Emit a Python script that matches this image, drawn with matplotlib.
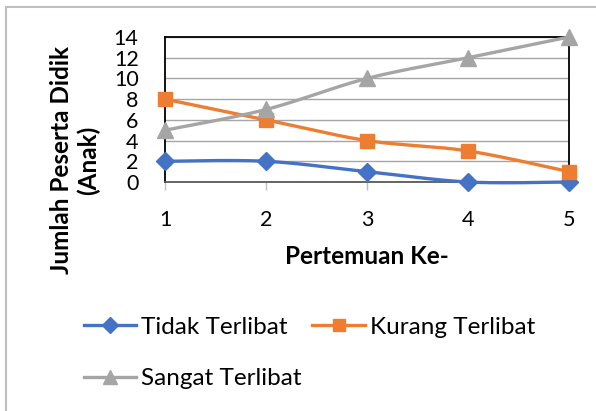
import numpy as np
import matplotlib.pyplot as plt
from matplotlib.patches import Rectangle
from matplotlib.lines import Line2D

plt.rcParams['font.family'] = ['Lato', 'DejaVu Sans']

pertemuan = [1, 2, 3, 4, 5]
tidak_terlibat = [2, 2, 1, 0, 0]
kurang_terlibat = [8, 6, 4, 3, 1]
sangat_terlibat = [5, 7, 10, 12, 14]

series = [
    ('Tidak Terlibat', tidak_terlibat, '#4472C4', 'D', 9),
    ('Kurang Terlibat', kurang_terlibat, '#ED7D31', 's', 10),
    ('Sangat Terlibat', sangat_terlibat, '#A5A5A5', '^', 11),
]


def smooth(x, y, n=40):
    # catmull-rom style bezier between points, like spreadsheet "smoothed line"
    x = np.asarray(x, float)
    y = np.asarray(y, float)
    px = np.concatenate([[x[0]], x, [x[-1]]])
    py = np.concatenate([[y[0]], y, [y[-1]]])
    xs, ys = [], []
    t = np.linspace(0, 1, n)
    for i in range(1, len(x)):
        p0 = np.array([px[i], py[i]])
        p3 = np.array([px[i + 1], py[i + 1]])
        c1 = p0 + (np.array([px[i + 1], py[i + 1]]) - np.array([px[i - 1], py[i - 1]])) / 6
        c2 = p3 - (np.array([px[i + 2], py[i + 2]]) - np.array([px[i], py[i]])) / 6
        b = ((1 - t) ** 3)[:, None] * p0 + (3 * (1 - t) ** 2 * t)[:, None] * c1 \
            + (3 * (1 - t) * t ** 2)[:, None] * c2 + (t ** 3)[:, None] * p3
        xs.extend(b[:, 0])
        ys.extend(b[:, 1])
    return np.array(xs), np.array(ys)


fig = plt.figure(figsize=(5.96, 4.11), dpi=100)
ax = fig.add_axes([165 / 596, 1 - 182 / 411, 404 / 596, 145 / 411])

for name, vals, color, marker, ms in series:
    sx, sy = smooth(pertemuan, vals)
    ax.plot(sx, sy, color=color, lw=2.4, clip_on=False, zorder=3,
            solid_capstyle='round')
    ax.plot(pertemuan, vals, ls='none', marker=marker, ms=ms, color=color,
            clip_on=False, zorder=4)

ax.set_xlim(1, 5)
ax.set_ylim(0, 14)
ax.set_xticks(pertemuan)
ax.set_yticks(range(0, 15, 2))
ax.grid(True, axis='y', color='#A6A6A6', lw=1)
ax.set_axisbelow(True)
for side in ['top', 'right', 'left']:
    ax.spines[side].set_color('black')
    ax.spines[side].set_linewidth(1.3)
ax.spines['bottom'].set_color('#595959')
ax.spines['bottom'].set_linewidth(1.3)
ax.tick_params(axis='y', length=0, pad=19, labelsize=15.5)
ax.tick_params(axis='x', length=6, width=1, color='#BFBFBF', pad=14, labelsize=15.5)

fig.text(367 / 596, 1 - 257 / 411, 'Pertemuan Ke-', ha='center', va='center',
         fontsize=17.5, fontweight='bold')
fig.text(75 / 596, 1 - 160 / 411, 'Jumlah Peserta Didik\n(Anak)', ha='center',
         va='center', rotation=90, fontsize=17.5, fontweight='bold',
         linespacing=1.2)

handles = []
for name, vals, color, marker, ms in series:
    handles.append(Line2D([], [], color=color, lw=2.4, marker=marker,
                          ms=ms - 1, label=name))
order = [handles[0], handles[2], handles[1]]
fig.legend(handles=order, labels=[h.get_label() for h in order], ncol=2,
           loc='upper left', bbox_to_anchor=(62 / 596, 1 - 295 / 411),
           frameon=False, fontsize=17.5, handlelength=2.15, handletextpad=0.2,
           columnspacing=0.45, labelspacing=1.25)

fig.add_artist(Rectangle((6 / 596, -0.1), 1.2, 1.1 - 7 / 411,
                         transform=fig.transFigure, fill=False,
                         edgecolor='#BFBFBF', lw=1.5))

fig.savefig('out.png', dpi=100)
